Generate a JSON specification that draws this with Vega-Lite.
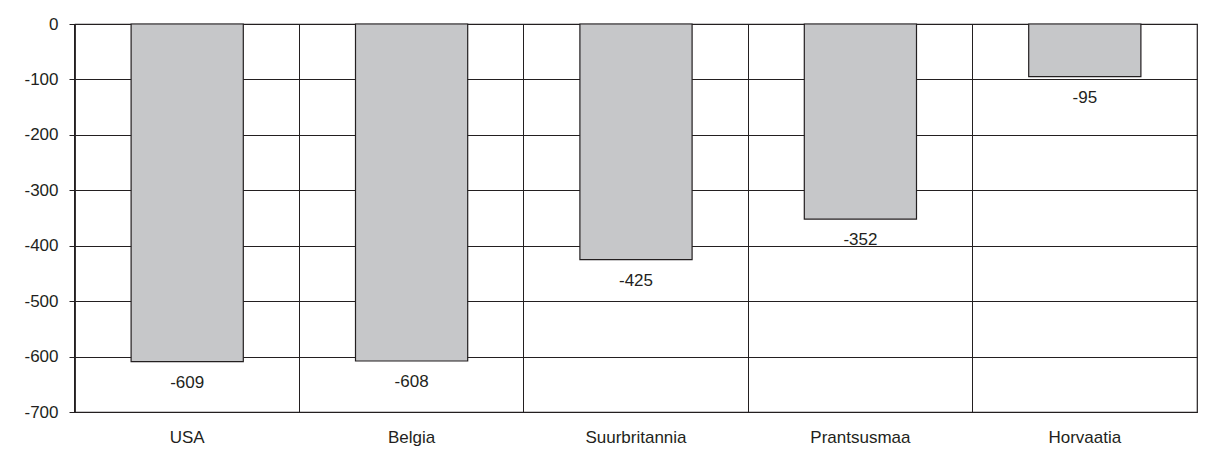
{
  "$schema": "https://vega.github.io/schema/vega-lite/v6.json",
  "width": 1122,
  "height": 388,
  "autosize": {"type": "none"},
  "padding": {"left": 75, "top": 24, "right": 10, "bottom": 47},
  "background": "white",
  "data": {
    "values": [
      {"maa": "USA", "arvo": -609},
      {"maa": "Belgia", "arvo": -608},
      {"maa": "Suurbritannia", "arvo": -425},
      {"maa": "Prantsusmaa", "arvo": -352},
      {"maa": "Horvaatia", "arvo": -95}
    ]
  },
  "encoding": {
    "x": {
      "field": "maa",
      "type": "nominal",
      "sort": null,
      "title": null,
      "scale": {"paddingInner": 0.5, "paddingOuter": 0.25},
      "axis": {
        "labelAngle": 0,
        "labelFont": "Liberation Sans",
        "labelFontSize": 17,
        "labelColor": "#231f20",
        "labelPadding": 17,
        "ticks": false,
        "tickSize": 0,
        "domain": false,
        "grid": true,
        "bandPosition": -0.5,
        "gridColor": "#231f20",
        "gridWidth": 1,
        "gridOpacity": 1
      }
    },
    "y": {
      "field": "arvo",
      "type": "quantitative",
      "title": null,
      "scale": {"domain": [-700, 0], "nice": false},
      "axis": {
        "values": [0, -100, -200, -300, -400, -500, -600, -700],
        "labelFont": "Liberation Sans",
        "labelFontSize": 17,
        "labelColor": "#231f20",
        "labelPadding": 11,
        "tickSize": 6,
        "tickColor": "#231f20",
        "domain": false,
        "grid": true,
        "gridColor": "#231f20",
        "gridWidth": 1,
        "gridOpacity": 1
      }
    }
  },
  "layer": [
    {
      "mark": {"type": "bar", "fill": "#c6c7c9", "stroke": "#231f20", "strokeWidth": 1.2}
    },
    {
      "mark": {
        "type": "text",
        "baseline": "middle",
        "align": "center",
        "dy": 21,
        "font": "Liberation Sans",
        "fontSize": 17,
        "fill": "#231f20"
      },
      "encoding": {"text": {"field": "arvo", "type": "quantitative"}}
    }
  ],
  "config": {
    "view": {"stroke": "#231f20", "strokeWidth": 1.2},
    "locale": {
      "number": {
        "decimal": ".",
        "thousands": ",",
        "grouping": [3],
        "currency": ["$", ""],
        "minus": "-"
      }
    }
  }
}
